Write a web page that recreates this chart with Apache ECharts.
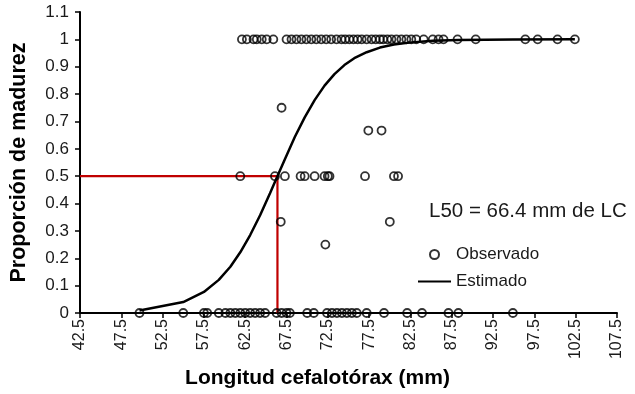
<!DOCTYPE html>
<html>
<head>
<meta charset="utf-8">
<script src="https://cdn.jsdelivr.net/npm/echarts@6/dist/echarts.min.js"></script>
<style>
html,body{margin:0;padding:0;background:#fff;}
#chart{width:635px;height:394px;}
</style>
</head>
<body>
<div id="chart"></div>
<script>
// Axis settings (mm)
const xMinMM = 42.5;
const xMaxMM = 107.5;
const xStep = 5;
const yTicks = [0,0.1,0.2,0.3,0.4,0.5,0.6,0.7,0.8,0.9,1,1.1];

// Observed lengths (mm) grouped by observed proportion mature
const lenProp1 = [62.1,62.7,63.5,63.9,64.5,65.1,65.9,67.5,68.1,68.7,69.3,69.9,70.5,71.1,71.7,72.3,72.9,73.55,74.15,74.6,75.1,75.6,76.1,76.6,77.2,77.8,78.3,78.8,79.2,79.7,80.2,80.8,81.4,82.0,82.6,83.2,84.1,85.2,85.9,86.5,88.2,90.4,96.4,97.9,100.3,102.4];
const lenProp0 = [49.7,55.0,57.5,57.9,59.3,60.1,60.7,61.3,61.9,62.5,63.1,63.7,64.3,64.9,66.3,66.9,67.5,67.9,70.0,70.8,72.4,73.0,73.6,74.2,74.8,75.4,76.0,77.2,79.3,82.1,83.9,87.1,88.3,94.9];
const lenProp075 = [66.9];
const lenProp067 = [77.4,79.0];
const lenProp05 = [61.9,66.1,67.3,69.2,69.7,70.9,72.1,72.5,72.7,77.0,80.5,81.0];
const lenProp033 = [66.8,80.0];
const lenProp025 = [72.2];

// Estimated (fitted) curve
const curveLen = [49.7,55.0,57.5,59.3,60.7,61.9,63.1,64.3,65.5,66.3,67.3,68.5,69.7,70.9,72.1,73.3,74.5,75.7,77.2,78.8,80.5,82.6,85.2,88.3,94.9,102.4];
const curveProp = [0.009,0.040,0.077,0.121,0.169,0.222,0.285,0.357,0.438,0.493,0.562,0.643,0.715,0.778,0.831,0.873,0.906,0.931,0.953,0.970,0.981,0.989,0.995,0.998,0.9996,1.0];

// L50
const L50 = 66.4;
const L50Label = 'L50 = 66.4 mm de LC';

function toAxis(mm){ return +(mm - xMinMM).toFixed(4); }

const observed = [];
[[lenProp1,1],[lenProp0,0],[lenProp075,0.75],[lenProp067,2/3],[lenProp05,0.5],[lenProp033,1/3],[lenProp025,0.25]].forEach(function(g){
  g[0].forEach(function(l){ observed.push([toAxis(l), g[1]]); });
});
const curve = curveLen.map(function(l,i){ return [toAxis(l), curveProp[i]]; });
const redLine = [[0,0.5],[toAxis(L50),0.5],[toAxis(L50),0]];

const FONT = '"Liberation Sans", Arial, sans-serif';
const chart = echarts.init(document.getElementById('chart'), null, {renderer:'canvas'});
chart.setOption({
  animation:false,
  backgroundColor:'#fff',
  title:{
    text:L50Label, left:424, top:196,
    textStyle:{fontFamily:FONT,fontSize:20.5,fontWeight:'normal',color:'#1a1a1a'}
  },
  legend:{
    data:[{name:'Observado'},{name:'Estimado', itemStyle:{opacity:0}}],
    orient:'vertical', left:412, top:241,
    itemWidth:33, itemHeight:9, itemGap:10,
    textStyle:{fontFamily:FONT,fontSize:17,color:'#1a1a1a'}
  },
  grid:{left:77, right:18, top:12, bottom:80, containLabel:false},
  xAxis:{
    type:'value', min:0, max:toAxis(xMaxMM), interval:xStep,
    name:'Longitud cefalotórax (mm)', nameLocation:'middle', nameGap:55,
    nameTextStyle:{fontFamily:FONT,fontSize:21,fontWeight:'bold',color:'#000',padding:[0,62,0,0]},
    axisLine:{lineStyle:{color:'#000',width:2}},
    axisTick:{show:true,inside:false,length:5,lineStyle:{color:'#000',width:1.5}},
    axisLabel:{rotate:90,fontFamily:FONT,fontSize:16,color:'#1a1a1a',margin:6,
      formatter:function(v){ return (v + xMinMM).toFixed(1); }},
    splitLine:{show:false}
  },
  yAxis:{
    type:'value', min:yTicks[0], max:yTicks[yTicks.length-1], interval:0.1,
    name:'Proporción de madurez', nameLocation:'middle', nameGap:50,
    nameTextStyle:{fontFamily:FONT,fontSize:21.5,fontWeight:'bold',color:'#000'},
    axisLine:{show:true,lineStyle:{color:'#000',width:2}},
    axisTick:{show:true,inside:false,length:5,lineStyle:{color:'#000',width:1.5}},
    axisLabel:{fontFamily:FONT,fontSize:17,color:'#1a1a1a',margin:11,
      formatter:function(v){ return String(+v.toFixed(1)); }},
    splitLine:{show:false}
  },
  series:[
    {
      name:'L50', type:'line', data:redLine, symbol:'none', silent:true,
      lineStyle:{color:'#C00000',width:2.2}, z:2
    },
    {
      name:'Estimado', type:'line', data:curve, symbol:'none', showSymbol:false,
      lineStyle:{color:'#000',width:2.5}, itemStyle:{color:'#000'}, z:3
    },
    {
      name:'Observado', type:'scatter', data:observed, symbol:'circle', symbolSize:8,
      itemStyle:{color:'rgba(255,255,255,0)',borderColor:'#000',borderWidth:1.8}, z:4
    }
  ]
});
</script>
</body>
</html>
